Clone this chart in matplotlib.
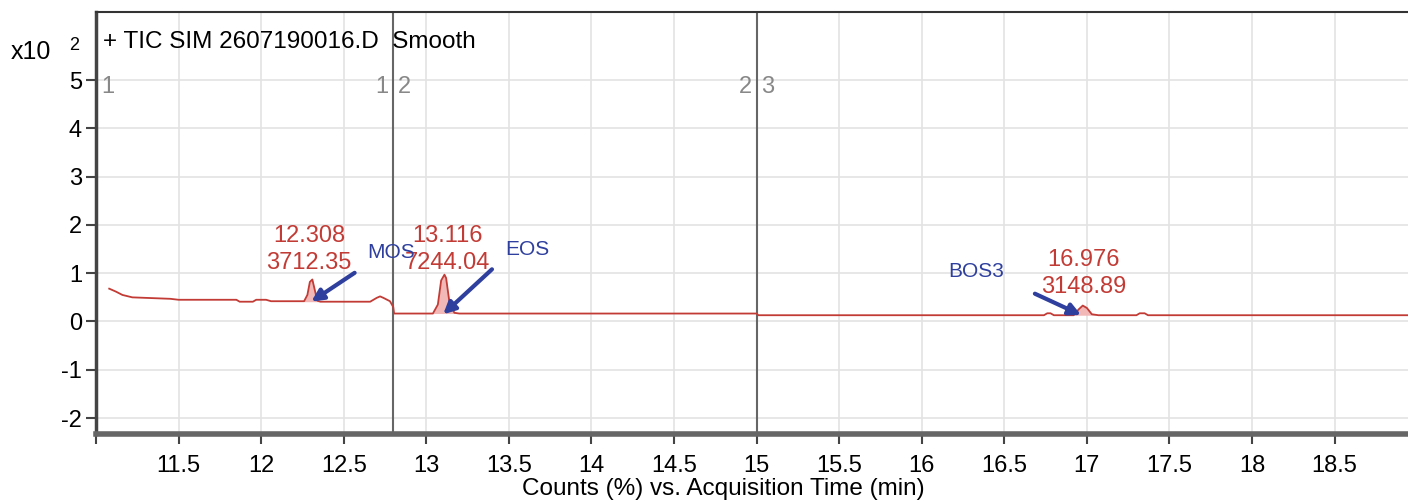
import matplotlib
matplotlib.use("Agg")
import matplotlib.pyplot as plt
import numpy as np

plt.rcParams['font.family'] = ['Liberation Sans', 'DejaVu Sans']

# ---- data (x10^2 counts %) ----
time_min = [11.08, 11.12, 11.16, 11.22, 11.45, 11.50, 11.85, 11.87, 11.95, 11.97, 12.03, 12.06,
            12.26, 12.28, 12.295, 12.31, 12.325, 12.34, 12.36,
            12.66, 12.70, 12.72, 12.74, 12.78, 12.80, 12.805,
            13.04, 13.07, 13.09, 13.11, 13.12, 13.14, 13.17, 13.20,
            15.0, 15.01,
            16.74, 16.76, 16.78, 16.80, 16.92, 16.95, 16.975, 17.00, 17.03, 17.07,
            17.30, 17.32, 17.35, 17.37, 18.97]
signal = [0.68, 0.62, 0.55, 0.50, 0.47, 0.45, 0.45, 0.41, 0.41, 0.45, 0.45, 0.42,
          0.42, 0.55, 0.82, 0.87, 0.65, 0.43, 0.41,
          0.41, 0.49, 0.52, 0.49, 0.42, 0.30, 0.165,
          0.165, 0.35, 0.85, 0.97, 0.90, 0.40, 0.18, 0.165,
          0.165, 0.13,
          0.13, 0.17, 0.17, 0.13, 0.13, 0.25, 0.33, 0.28, 0.15, 0.13,
          0.13, 0.17, 0.17, 0.13, 0.13]

# integrated peak regions (start, end, baseline)
peak_start = [12.26, 13.04, 16.92]
peak_end = [12.36, 13.20, 17.07]
peak_base = [0.41, 0.165, 0.13]

peak_rt = ["12.308", "13.116", "16.976"]
peak_area = ["3712.35", "7244.04", "3148.89"]
peak_label_x = [12.29, 13.13, 16.98]
peak_label_y = [1.49, 1.49, 0.99]

compound = ["MOS", "EOS", "BOS3"]
compound_xy = [(12.64, 1.43), (13.48, 1.49), (16.16, 1.04)]
arrow_tail = [(12.58, 1.04), (13.41, 1.12), (16.67, 0.60)]
arrow_head = [(12.29, 0.38), (13.09, 0.11), (16.98, 0.11)]

segment_bounds = [12.8, 15.0]
segment_labels = [(11.03, "1", "left"), (12.77, "1", "right"), (12.83, "2", "left"),
                  (14.97, "2", "right"), (15.03, "3", "left")]

x_ticks = [11.0, 11.5, 12, 12.5, 13, 13.5, 14, 14.5, 15, 15.5, 16, 16.5, 17, 17.5, 18, 18.5]
x_tick_labels = ["", "11.5", "12", "12.5", "13", "13.5", "14", "14.5", "15", "15.5", "16",
                 "16.5", "17", "17.5", "18", "18.5"]
y_ticks = [-2, -1, 0, 1, 2, 3, 4, 5]

red = "#c23b35"
blue = "#2e3f9e"

fig = plt.figure(figsize=(14.08, 5.01), dpi=100)
ax = fig.add_axes([96/1408, 1-434/501, 1.0 - 96/1408 + 0.003, (434-12)/501])
ax.set_xlim(11.0, 18.97)
ax.set_ylim(-2.33, 6.41)

t = np.array(time_min)
s = np.array(signal)
for a, b, base in zip(peak_start, peak_end, peak_base):
    m = (t >= a) & (t <= b)
    ax.fill_between(t[m], base, s[m], color="#f2b8b8", lw=0, zorder=2)
ax.plot(t, s, color=red, lw=1.3, zorder=3)

for x in segment_bounds:
    ax.axvline(x, color="#666666", lw=1.5, zorder=1.5)
for x, lab, ha in segment_labels:
    ax.text(x, 4.85, lab, color="#888888", fontsize=17, ha=ha, va="center")

ax.set_xticks(x_ticks)
ax.set_xticklabels(x_tick_labels, fontsize=17)
ax.set_yticks(y_ticks)
ax.set_yticklabels([str(v) for v in y_ticks], fontsize=17)
ax.grid(True, color="#e3e3e3", lw=1.2, zorder=0)
ax.set_axisbelow(True)
ax.tick_params(axis="both", length=7, width=1.5, color="#444444", direction="out")
ax.tick_params(axis="x", pad=8)
ax.tick_params(axis="y", pad=3)

ax.spines["left"].set_color("#444444")
ax.spines["left"].set_linewidth(2.5)
ax.spines["bottom"].set_color("#666666")
ax.spines["bottom"].set_linewidth(4)
ax.spines["top"].set_color("#333333")
ax.spines["top"].set_linewidth(1.5)
ax.spines["right"].set_visible(False)

for rt, area, x, y in zip(peak_rt, peak_area, peak_label_x, peak_label_y):
    ax.text(x, y, rt + "\n" + area, color=red, fontsize=17, ha="center", va="center",
            linespacing=1.3, zorder=4)

for name, (tx, ty), (ax0, ay0), (hx, hy) in zip(compound, compound_xy, arrow_tail, arrow_head):
    ax.text(tx, ty, name, color=blue, fontsize=15, ha="left", va="center", zorder=5)
    ax.annotate("", xy=(hx, hy), xytext=(ax0, ay0),
                arrowprops=dict(arrowstyle="-|>,head_length=0.7,head_width=0.35",
                                color=blue, lw=3), zorder=5)

ax.text(0.005, 0.928, "+ TIC SIM 2607190016.D  Smooth", transform=ax.transAxes,
        fontsize=17.5, ha="left", va="center")
fig.text(11/1408, 1-52/501, "x10", fontsize=18, ha="left", va="center")
fig.text(69/1408, 1-45/501, "2", fontsize=13, ha="left", va="center")
fig.text(723/1408, 1-489/501, "Counts (%) vs. Acquisition Time (min)", fontsize=17.5,
         ha="center", va="center")

fig.savefig("out.png", dpi=100)
